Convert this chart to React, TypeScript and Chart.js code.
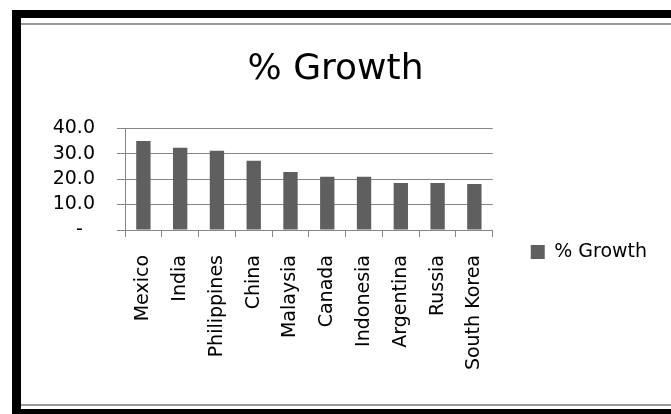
import React, { useEffect, useRef } from 'react';
import { Chart, registerables } from 'chart.js';

Chart.register(...registerables);

const titleText = '% Growth';
const seriesLabel = '% Growth';
const categories = [
  'Mexico',
  'India',
  'Philippines',
  'China',
  'Malaysia',
  'Canada',
  'Indonesia',
  'Argentina',
  'Russia',
  'South Korea',
];
const growthValues = [35.0, 32.3, 31.1, 27.2, 22.8, 20.9, 20.9, 18.5, 18.5, 18.1];
const yMin = 0;
const yMax = 40;
const yStep = 10;

const FONT = 'DejaVu Sans';
const GRID = '#868686';

export default function App() {
  const ref = useRef<HTMLCanvasElement>(null);

  useEffect(() => {
    if (!ref.current) return;
    const chart = new Chart(ref.current, {
      type: 'bar',
      data: {
        labels: categories,
        datasets: [
          {
            label: seriesLabel,
            data: growthValues,
            backgroundColor: '#5f5f5f',
            borderWidth: 0,
            barPercentage: 0.39,
            categoryPercentage: 1,
          },
        ],
      },
      options: {
        responsive: false,
        animation: false,
        layout: { padding: { top: 0, left: 0, right: 21, bottom: -75 } },
        plugins: {
          title: {
            display: true,
            text: titleText,
            color: '#000',
            font: { family: FONT, size: 36, weight: 'normal' },
            padding: { top: 23, bottom: 37 },
          },
          legend: {
            display: true,
            position: 'right',
            align: 'center',
            labels: {
              boxWidth: 14,
              boxHeight: 14,
              padding: 38,
              color: '#000',
              font: { family: FONT, size: 19 },
            },
          },
          tooltip: { enabled: false },
        },
        scales: {
          x: {
            grid: {
              drawOnChartArea: false,
              drawTicks: true,
              tickLength: 7,
              color: GRID,
              offset: true,
            },
            border: { display: true, color: GRID },
            ticks: {
              autoSkip: false,
              minRotation: 90,
              maxRotation: 90,
              padding: 18,
              color: '#000',
              font: { family: FONT, size: 19 },
            },
            afterFit: (s: any) => {
              s.height = 249;
            },
          },
          y: {
            min: yMin,
            max: yMax,
            grid: { color: GRID, tickLength: 8 },
            border: { display: true, color: GRID },
            ticks: {
              stepSize: yStep,
              autoSkip: false,
              padding: 22,
              color: '#000',
              font: { family: FONT, size: 19 },
              callback: (v: any) => (Number(v) === 0 ? '-  ' : Number(v).toFixed(1)),
            },
            afterFit: (s: any) => {
              s.width = 104;
            },
          },
        },
      },
    });
    return () => chart.destroy();
  }, []);

  return (
    <div
      style={{
        position: 'absolute',
        left: 0,
        top: 0,
        width: 671,
        height: 414,
        overflow: 'hidden',
        background: '#fff',
      }}
    >
      <div style={{ position: 'absolute', left: 12, top: 10, width: 700, height: 8, background: '#000' }} />
      <div style={{ position: 'absolute', left: 12, top: 10, width: 9, height: 420, background: '#000' }} />
      <div style={{ position: 'absolute', left: 12, top: 409, width: 700, height: 10, background: '#000' }} />
      <div style={{ position: 'absolute', left: 21, top: 23, width: 700, height: 2, background: '#999' }} />
      <div style={{ position: 'absolute', left: 21, top: 404, width: 700, height: 2, background: '#999' }} />
      <div style={{ position: 'absolute', left: 21, top: 25, width: 650, height: 379 }}>
        <canvas ref={ref} width={650} height={379} style={{ display: 'block' }} />
      </div>
    </div>
  );
}
